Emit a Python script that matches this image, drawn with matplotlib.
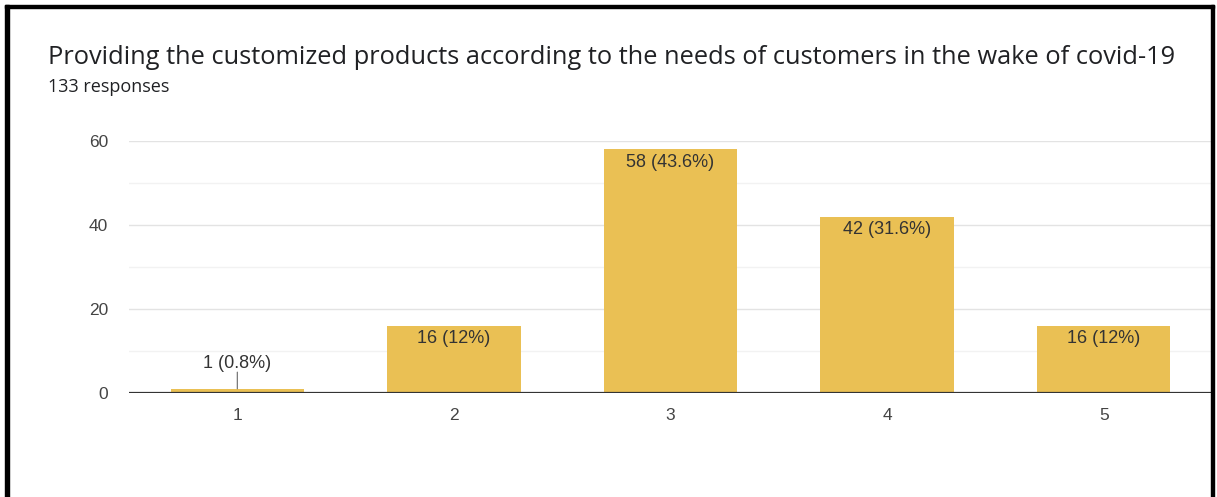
import matplotlib.pyplot as plt
from matplotlib.patches import Rectangle

# survey answers (scale 1-5) and counts
ratings = [1, 2, 3, 4, 5]
counts = [1, 16, 58, 42, 16]
percents = ["0.8%", "12%", "43.6%", "31.6%", "12%"]
total = 133

title = "Providing the customized products according to the needs of customers in the wake of covid-19"

W, H = 1217, 497
fig = plt.figure(figsize=(W / 100, H / 100), dpi=100)
plt.rcParams['font.family'] = ['Liberation Sans', 'DejaVu Sans']

# plot area in pixel coords
left, right, top, bottom = 129, 1212, 141, 393
ax = fig.add_axes([left / W, 1 - bottom / H, (right - left) / W, (bottom - top) / H])

bar_color = "#EAC054"
ax.bar(ratings, counts, width=0.615, color=bar_color, zorder=2)

ax.set_xlim(0.5, 5.5)
ax.set_ylim(0, 60)

# grid: major every 20, minor every 10
for y in [10, 30, 50]:
    ax.axhline(y, color="#f2f2f2", lw=1, zorder=0)
for y in [20, 40, 60]:
    ax.axhline(y, color="#e3e3e3", lw=1, zorder=0)
ax.axhline(0, color="#333333", lw=1.6, zorder=3)

for s in ax.spines.values():
    s.set_visible(False)
ax.set_yticks([0, 20, 40, 60])
ax.set_xticks(ratings)
ax.tick_params(length=0, labelsize=12.5, labelcolor="#444444")
ax.tick_params(axis='y', pad=15)
ax.tick_params(axis='x', pad=11)

# value labels: inside the bar, or above with a leader line when the bar is too short
for x, c, p in zip(ratings, counts, percents):
    txt = f"{c} ({p})"
    if c < 5:
        ax.annotate("", xy=(x, c), xytext=(0, 12), textcoords="offset points",
                    arrowprops=dict(arrowstyle="-", color="#666666", lw=0.8,
                                    shrinkA=0, shrinkB=0))
        ax.annotate(txt, xy=(x, c), xytext=(0, 12), textcoords="offset points",
                    ha="center", va="bottom", fontsize=13, color="#333333")
    else:
        ax.annotate(txt, xy=(x, c), xytext=(0, -3), textcoords="offset points",
                    ha="center", va="top", fontsize=13, color="#333333")

fig.text(48 / W, 1 - 58 / H, title, fontsize=18.25, color="#202124", va="center", ha="left",
         family=['Open Sans', 'DejaVu Sans'])
fig.text(48 / W, 1 - 87 / H, f"{total} responses", fontsize=13, color="#202124", va="center", ha="left",
         family=['Open Sans', 'DejaVu Sans'])

# black frame around the card
fig.patches.append(Rectangle((5 / W, 0), 4 / W, 1 - 5 / H, transform=fig.transFigure,
                             color="black", zorder=10))
fig.patches.append(Rectangle((5 / W, 1 - 8 / H), (1214 - 5) / W, 3 / H, transform=fig.transFigure,
                             color="black", zorder=10))
fig.patches.append(Rectangle((1211 / W, 0), 3 / W, 1 - 5 / H, transform=fig.transFigure,
                             color="black", zorder=10))

fig.savefig("out.png", dpi=100)
